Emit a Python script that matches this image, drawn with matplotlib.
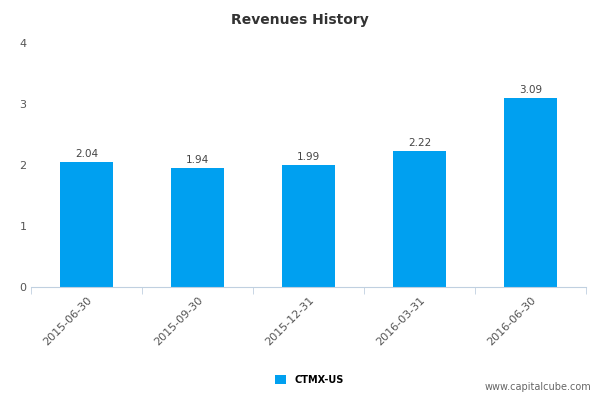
import matplotlib
matplotlib.use("Agg")
import matplotlib.pyplot as plt

categories = ["2015-06-30", "2015-09-30", "2015-12-31", "2016-03-31", "2016-06-30"]
values = [2.04, 1.94, 1.99, 2.22, 3.09]
series_name = "CTMX-US"
yticks = [0, 1, 2, 3, 4]

fig = plt.figure(figsize=(6, 4), dpi=100)
ax = fig.add_axes([0.052, 0.283, 0.925, 0.61])
x = list(range(len(categories)))
bars = ax.bar(x, values, width=0.48, color="#00a0f0")
for xi, v in zip(x, values):
    ax.text(xi, v + 0.06, f"{v:.2f}", ha="center", va="bottom", fontsize=7.5, color="#444444")
ax.set_xlim(-0.5, len(categories) - 0.5)
ax.set_ylim(0, 4)
ax.set_yticks(yticks)
ax.set_yticklabels([str(t) for t in yticks], fontsize=8, color="#555555")
ax.set_xticks([i - 0.5 for i in x] + [len(x) - 0.5], minor=True)
ax.set_xticks(x)
ax.set_xticklabels(categories, rotation=45, ha="right", fontsize=8, color="#555555", rotation_mode="anchor")
ax.tick_params(axis="x", which="major", length=0, pad=6)
ax.tick_params(axis="x", which="minor", length=5, color="#c0d0e0")
ax.tick_params(axis="y", length=0)
for s in ["top", "right", "left"]:
    ax.spines[s].set_visible(False)
ax.spines["bottom"].set_color("#c0d0e0")
fig.text(0.5, 0.95, "Revenues History", ha="center", va="center", fontsize=10, fontweight="bold", color="#333333")
fig.legend([bars], [series_name], loc="center", bbox_to_anchor=(0.515, 0.05), frameon=False,
           prop={"weight": "bold", "size": 7}, handlelength=1.2, handleheight=1.0)
fig.text(0.985, 0.02, "www.capitalcube.com", ha="right", va="bottom", fontsize=7, color="#666666")
fig.savefig("out.png")
